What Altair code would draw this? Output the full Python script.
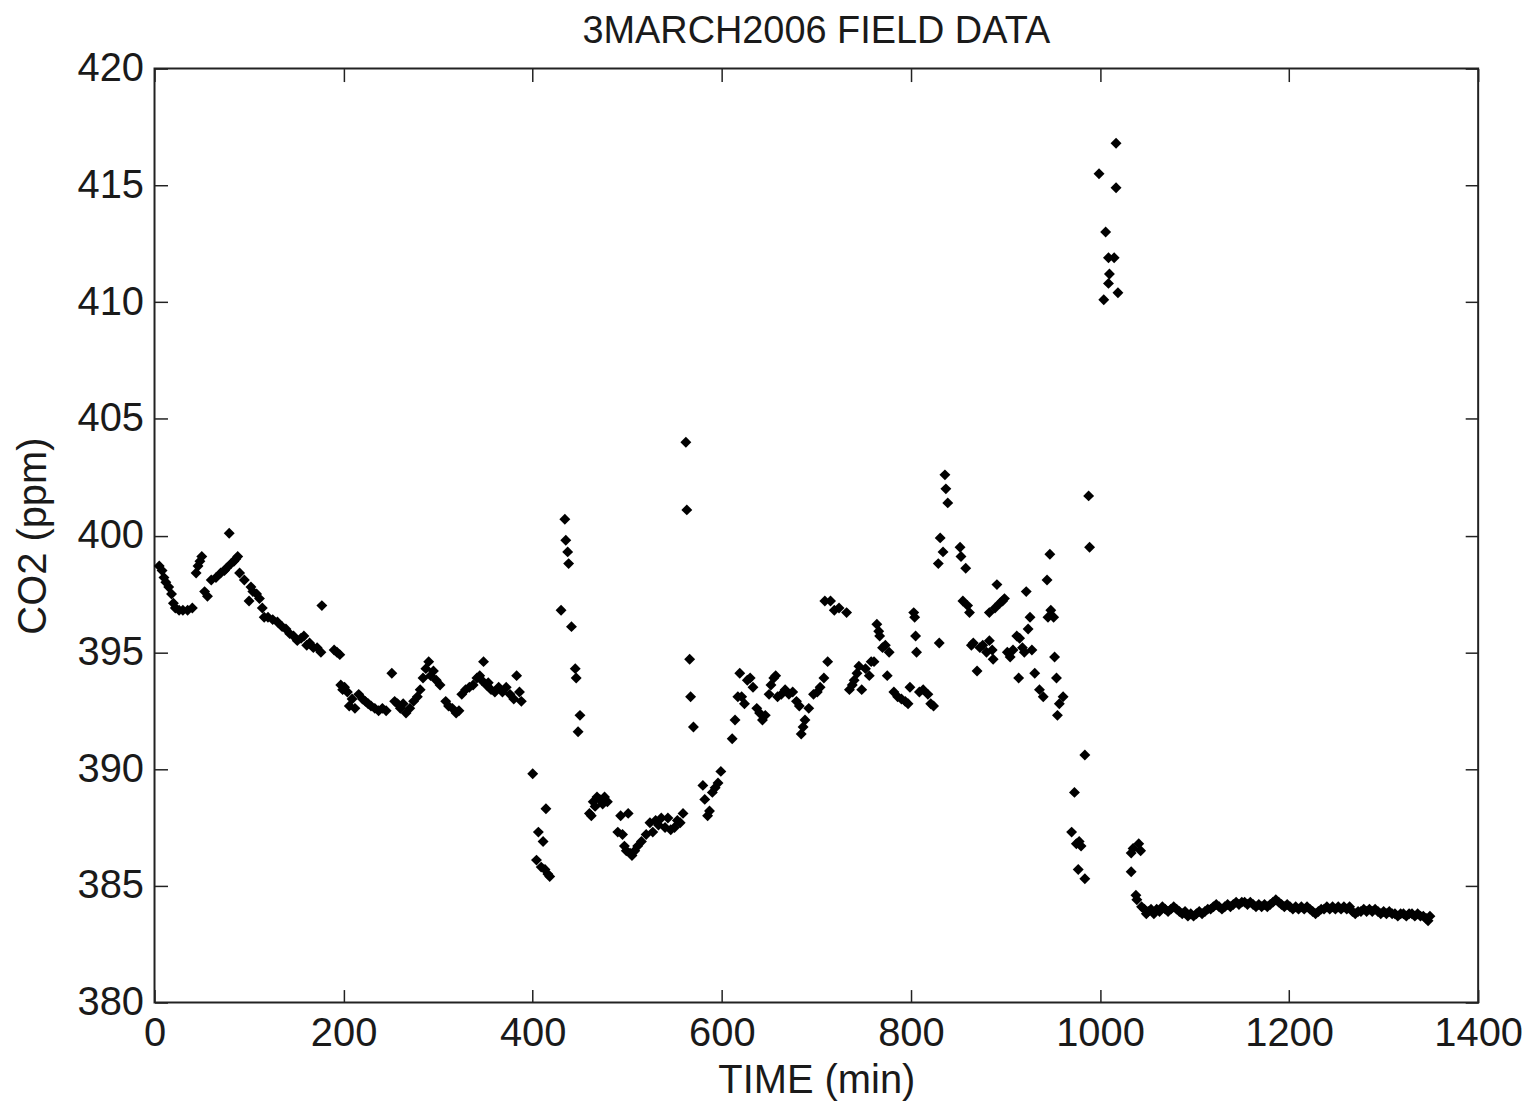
import altair as alt
import pandas as pd

# (time in min, CO2 in ppm), grouped by time span
seg_0_200 = [
    (5, 398.7), (8, 398.5), (10, 398.2), (12, 398.0), (15, 397.8), (18, 397.5), (20, 397.1),
    (22, 396.9), (26, 396.8), (30, 396.8), (35, 396.8), (40, 396.9), (44, 398.4), (46, 398.7),
    (48, 398.9), (50, 399.1), (53, 397.6), (56, 397.4), (60, 398.1), (65, 398.2), (70, 398.4),
    (74, 398.5), (76, 398.6), (79, 400.1), (81, 398.8), (84, 398.9), (86, 399.0), (88, 399.1),
    (90, 398.4), (95, 398.1), (100, 397.2), (102, 397.8), (104, 397.6), (108, 397.5), (111, 397.3),
    (114, 396.9), (116, 396.5), (120, 396.5), (125, 396.4), (130, 396.3), (135, 396.1), (139, 396.0),
    (143, 395.8), (147, 395.7), (151, 395.5), (155, 395.6), (158, 395.7), (161, 395.3), (164, 395.4),
    (168, 395.2), (172, 395.2), (176, 395.0), (177, 397.0), (190, 395.1), (193, 395.0), (196, 394.9),
]
seg_200_400 = [
    (197, 393.6), (199, 393.4), (201, 393.5), (204, 393.3), (206, 392.7), (209, 393.0), (212, 392.6),
    (216, 393.2), (220, 393.0), (223, 392.9), (226, 392.8), (229, 392.7), (233, 392.6), (237, 392.5),
    (241, 392.6), (245, 392.5), (251, 394.1), (254, 392.9), (257, 392.8), (260, 392.6), (263, 392.8),
    (266, 392.4), (270, 392.6), (274, 392.9), (278, 393.1), (281, 393.4), (284, 393.9), (287, 394.3),
    (290, 394.6), (292, 394.0), (295, 394.2), (298, 393.8), (302, 393.6), (308, 392.9), (311, 392.7),
    (315, 392.6), (319, 392.4), (322, 392.5), (325, 393.2), (329, 393.4), (333, 393.5), (337, 393.6),
    (341, 393.9), (344, 394.0), (346, 393.8), (348, 394.6), (351, 393.6), (353, 393.7), (356, 393.4),
    (360, 393.3), (364, 393.5), (368, 393.3), (372, 393.5), (376, 393.2), (380, 393.0), (383, 394.0),
    (386, 393.3), (388, 392.9),
]
seg_400_600 = [
    (400, 389.8), (404, 386.1), (406, 387.3), (409, 385.8), (411, 386.9), (413, 385.7), (414, 388.3),
    (416, 385.5), (418, 385.4), (430, 396.8), (434, 400.7), (435, 399.8), (437, 399.3), (438, 398.8),
    (441, 396.1), (445, 394.3), (446, 393.9), (448, 391.6), (450, 392.3), (460, 388.1), (462, 388.0),
    (464, 388.6), (466, 388.4), (468, 388.8), (471, 388.7), (474, 388.5), (476, 388.8), (479, 388.6),
    (490, 387.3), (493, 388.0), (495, 387.2), (497, 386.7), (499, 386.5), (501, 388.1), (503, 386.4),
    (505, 386.3), (508, 386.5), (511, 386.7), (515, 386.9), (520, 387.2), (524, 387.7), (527, 387.3),
    (530, 387.8), (533, 387.6), (536, 387.9), (540, 387.5), (543, 387.9), (546, 387.4), (550, 387.5),
    (553, 387.8), (556, 387.7), (559, 388.1), (562, 404.0), (563, 401.1), (566, 394.7), (567, 393.1),
    (570, 391.8), (580, 389.3), (582, 388.7), (585, 388.0), (587, 388.2), (590, 389.0), (593, 389.2),
    (596, 389.4), (599, 389.9),
]
seg_600_830 = [
    (611, 391.3), (614, 392.1), (617, 393.1), (619, 394.1), (621, 393.1), (624, 392.8), (627, 393.8),
    (630, 393.9), (633, 393.5), (637, 392.6), (640, 392.4), (643, 392.1), (646, 392.3), (650, 393.2),
    (652, 393.6), (655, 393.9), (657, 394.0), (659, 393.1), (663, 393.2), (667, 393.4), (671, 393.2),
    (675, 393.3), (679, 392.9), (682, 392.7), (684, 391.5), (686, 391.8), (688, 392.1), (692, 392.6),
    (697, 393.2), (701, 393.3), (704, 393.5), (708, 393.9), (709, 397.2), (712, 394.6), (715, 397.2),
    (719, 396.8), (724, 396.9), (732, 396.7), (735, 393.4), (738, 393.6), (740, 393.8), (743, 394.1),
    (745, 394.4), (748, 393.4), (752, 394.3), (756, 394.0), (758, 394.6), (761, 394.6), (764, 396.2),
    (766, 395.9), (767, 395.7), (770, 395.2), (773, 395.3), (775, 394.0), (777, 395.0), (782, 393.3),
    (786, 393.1), (790, 393.0), (794, 392.9), (797, 392.8), (799, 393.5), (803, 396.7), (804, 396.5),
    (805, 395.7), (806, 395.0), (809, 393.3), (813, 393.4), (818, 393.2), (821, 392.8), (824, 392.7),
]
seg_830_1000 = [
    (829, 398.8), (830, 395.4), (831, 399.9), (834, 399.3), (836, 402.6), (837, 402.0), (839, 401.4),
    (852, 399.5), (853, 399.1), (855, 397.2), (858, 398.6), (860, 397.0), (862, 396.7), (864, 395.3),
    (866, 395.4), (870, 394.2), (873, 395.2), (876, 395.3), (880, 395.0), (883, 396.7), (883, 395.5),
    (886, 395.1), (887, 394.7), (889, 396.9), (891, 397.9), (894, 397.1), (897, 397.2), (899, 397.3),
    (902, 395.0), (905, 394.8), (908, 395.1), (912, 395.7), (914, 393.9), (915, 395.6), (918, 395.2),
    (920, 395.0), (922, 397.6), (924, 396.0), (926, 396.5), (928, 395.1), (931, 394.1), (936, 393.4),
    (940, 393.1), (944, 398.1), (945, 396.5), (947, 399.2), (948, 396.8), (951, 396.5), (952, 394.8),
    (954, 393.9), (955, 392.3), (957, 392.8), (961, 393.1), (970, 387.3), (973, 389.0), (975, 386.8),
    (977, 385.7), (978, 386.9), (980, 386.7), (984, 385.3), (984, 390.6), (988, 401.7), (989, 399.5),
]
seg_1000_1050 = [
    (999, 415.5), (1004, 410.1), (1006, 413.0), (1009, 411.9), (1009, 410.8), (1010, 411.2),
    (1015, 411.9), (1017, 416.8), (1017, 414.9), (1019, 410.4), (1033, 386.4), (1033, 385.6),
    (1035, 386.6), (1038, 384.6), (1039, 384.4), (1041, 386.8), (1043, 386.5), (1044, 384.1),
    (1047, 384.0), (1049, 383.8),
]
seg_1050_1350 = [
    (1051, 383.9), (1054, 384.0), (1057, 383.8), (1060, 384.0), (1063, 383.9), (1066, 384.1),
    (1069, 384.0), (1072, 383.9), (1075, 384.0), (1078, 384.1), (1081, 384.0), (1084, 383.9),
    (1087, 383.8), (1090, 383.9), (1093, 383.7), (1096, 383.8), (1099, 383.7), (1102, 383.8),
    (1105, 383.9), (1108, 383.8), (1111, 383.9), (1114, 384.0), (1117, 384.0), (1120, 384.1),
    (1123, 384.2), (1126, 384.1), (1129, 384.0), (1132, 384.1), (1135, 384.2), (1138, 384.1),
    (1141, 384.2), (1144, 384.3), (1147, 384.2), (1150, 384.3), (1153, 384.3), (1156, 384.2),
    (1159, 384.3), (1162, 384.2), (1165, 384.1), (1168, 384.2), (1171, 384.1), (1174, 384.2),
    (1177, 384.1), (1180, 384.2), (1183, 384.3), (1186, 384.4), (1189, 384.3), (1192, 384.2),
    (1195, 384.1), (1198, 384.2), (1201, 384.1), (1204, 384.0), (1207, 384.1), (1210, 384.0),
    (1213, 384.1), (1216, 384.0), (1219, 384.1), (1222, 384.0), (1225, 383.9), (1228, 383.8),
    (1231, 383.9), (1234, 384.0), (1237, 384.0), (1240, 384.1), (1243, 384.0), (1246, 384.1),
    (1249, 384.0), (1252, 384.1), (1255, 384.0), (1258, 384.1), (1261, 384.0), (1264, 384.1),
    (1267, 383.9), (1270, 383.8), (1273, 383.9), (1276, 383.9), (1279, 384.0), (1282, 383.9),
    (1285, 384.0), (1288, 383.9), (1291, 384.0), (1294, 383.9), (1297, 383.8), (1300, 383.9),
    (1303, 383.8), (1306, 383.9), (1309, 383.8), (1312, 383.8), (1315, 383.7), (1318, 383.8),
    (1321, 383.8), (1324, 383.7), (1327, 383.8), (1330, 383.8), (1333, 383.7), (1336, 383.8),
    (1339, 383.7), (1342, 383.7), (1345, 383.6), (1347, 383.5), (1349, 383.7),
]

x_ticks = [0, 200, 400, 600, 800, 1000, 1200, 1400]
y_ticks = [380, 385, 390, 395, 400, 405, 410, 415, 420]

rows = (seg_0_200 + seg_200_400 + seg_400_600 + seg_600_830
        + seg_830_1000 + seg_1000_1050 + seg_1050_1350)
df = pd.DataFrame(rows, columns=["t", "co2"])

FONT = "Liberation Sans"
FS = 40
TXT = "#1a1a1a"
xs = alt.Scale(domain=[0, 1400], nice=False, zero=False)
ys = alt.Scale(domain=[380, 420], nice=False, zero=False)

base = alt.Chart(df)

main = base.mark_point(shape="diamond", filled=True, size=120, color="black", opacity=1).encode(
    x=alt.X("t:Q", scale=xs, axis=alt.Axis(
        orient="bottom", values=x_ticks, ticks=False, domain=False, grid=False,
        labelFont=FONT, labelFontSize=FS, labelColor=TXT, labelPadding=11,
        labelFlush=False, labelOverlap=False, labelBound=False, format="d",
        title="TIME (min)", titleFont=FONT, titleFontSize=FS, titleFontWeight="normal",
        titleColor=TXT, titlePadding=7)),
    y=alt.Y("co2:Q", scale=ys, axis=alt.Axis(
        orient="left", values=y_ticks, ticks=False, domain=False, grid=False,
        labelFont=FONT, labelFontSize=FS, labelColor=TXT, labelPadding=11,
        labelFlush=False, labelOverlap=False, labelBound=False, format="d",
        title="CO2 (ppm)", titleFont=FONT, titleFontSize=FS, titleFontWeight="normal",
        titleColor=TXT, titlePadding=24)),
)

TL = 13


def tick_axis(orient, vals):
    return alt.Axis(orient=orient, values=vals, ticks=True, tickSize=TL, tickWidth=1.5,
                    tickColor="#222222", labels=False, domain=False, grid=False,
                    title=None, offset=-TL)


ticks_bl = base.mark_point(opacity=0).encode(
    x=alt.X("t:Q", scale=xs, axis=tick_axis("bottom", x_ticks)),
    y=alt.Y("co2:Q", scale=ys, axis=tick_axis("left", y_ticks)),
)
ticks_tr = base.mark_point(opacity=0).encode(
    x=alt.X("t:Q", scale=xs, axis=tick_axis("top", x_ticks)),
    y=alt.Y("co2:Q", scale=ys, axis=tick_axis("right", y_ticks)),
)

chart = alt.layer(main, ticks_bl, ticks_tr).resolve_axis(
    x="independent", y="independent"
).properties(
    width=1328,
    height=937,
    title=alt.TitleParams("3MARCH2006 FIELD DATA", font=FONT, fontSize=38,
                          fontWeight="normal", color=TXT, anchor="middle", offset=-2),
    autosize=alt.AutoSizeParams(type="none"),
    padding={"left": 147, "top": 59, "right": 50, "bottom": 100},
).configure(
    background="white"
).configure_view(
    stroke="#222222", strokeWidth=2
)

chart.save("out.html", embed_options={"renderer": "svg", "actions": False})
